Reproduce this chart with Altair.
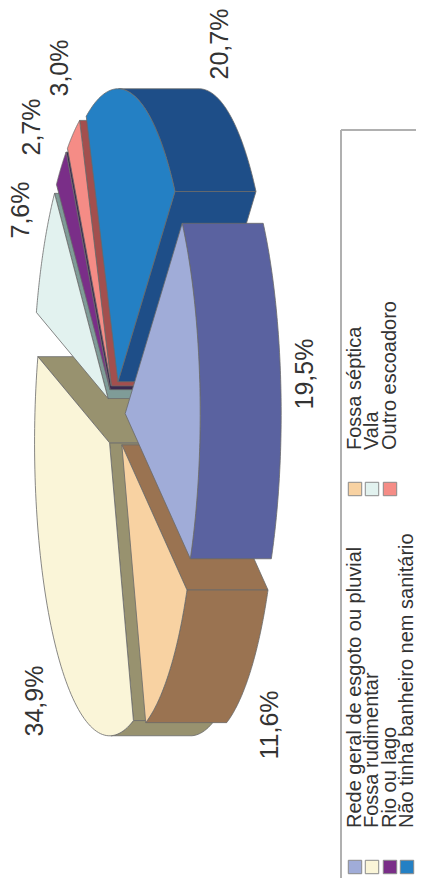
import numpy as np
import altair as alt

categories = ["Rede geral de esgoto ou pluvial", "Fossa séptica", "Fossa rudimentar", "Vala",
              "Rio ou lago", "Outro escoadoro", "Não tinha banheiro nem sanitário"]
values = [19.5, 11.6, 34.9, 7.6, 2.7, 3.0, 20.7]
top_colors = ["#A0ACD8", "#F8D2A2", "#FAF5D8", "#E2F2EF", "#7A2E88", "#F58C86", "#2480C4"]
side_colors = ["#5A62A0", "#9A7351", "#98926F", "#7F9C98", "#3A2A50", "#A34F4E", "#1E4E88"]
draw_order = [2, 3, 4, 5, 6, 1, 0]
start_angle = -40.5

W, H = 408, 870
OFF = 8
CX, CY, AX, AY, DEPTH, EXPLODE = 116.0, 417.0, 75.0, 293.0, 81.0, 0.123
EDGE = "#6a6a6a"

ends = start_angle + np.cumsum(values) * 3.6
starts = ends - np.array(values) * 3.6


def ell(t, c):
    r = np.radians(t)
    return (c[0] + AX * np.cos(r), c[1] + AY * np.sin(r))


def feature(pts, fill, key):
    ring = [[float(a), float(b)] for a, b in pts]
    ring.append(ring[0])
    return {"type": "Feature", "properties": {"fill": fill, "key": key},
            "geometry": {"type": "Polygon", "coordinates": [ring]}}


features = []
for i in draw_order:
    t0, t1 = starts[i], ends[i]
    mid = np.radians((t0 + t1) / 2)
    c = (CX + EXPLODE * AX * np.cos(mid), CY + EXPLODE * AY * np.sin(mid))
    ts = np.linspace(t0, t1, 80)
    shift = lambda p: (p[0] + DEPTH, p[1])
    if np.sin(np.radians(t0)) > 0:
        e = ell(t0, c)
        features.append(feature([c, e, shift(e), shift(c)], side_colors[i], f"{i}a"))
    if -np.sin(np.radians(t1)) > 0:
        e = ell(t1, c)
        features.append(feature([c, e, shift(e), shift(c)], side_colors[i], f"{i}b"))
    vis = ts[np.cos(np.radians(ts)) > 0]
    if len(vis) > 1:
        arc = [ell(t, c) for t in vis]
        features.append(feature(arc + [shift(p) for p in arc[::-1]], side_colors[i], f"{i}c"))
    features.append(feature([c] + [ell(t, c) for t in ts], top_colors[i], f"{i}d"))

pie = alt.Chart(alt.Data(values=features)).mark_geoshape(stroke=EDGE, strokeWidth=0.8).encode(
    fill=alt.Fill("properties.fill:N", scale=None)
).project(type="identity", scale=1, translate=[-OFF, -OFF])

xs = alt.Scale(domain=[OFF, OFF + W], range=[0, W])
ys = alt.Scale(domain=[OFF, OFF + H], range=[0, H])
X = lambda f: alt.X(f, type="quantitative", scale=xs, axis=None)
Y = lambda f: alt.Y(f, type="quantitative", scale=ys, axis=None)

label_text = [f"{v:.1f}%".replace(".", ",") for v in values]
label_x = [305, 270, 35, 21, 32, 60, 220]
label_y = [374, 725, 701, 210, 127, 68, 44]
labels = alt.Chart(alt.Data(values=[{"t": t, "x": a, "y": b} for t, a, b in zip(label_text, label_x, label_y)])).mark_text(
    angle=270, font="Liberation Sans", fontSize=25, color="#333333", align="center", baseline="middle"
).encode(x=X("x"), y=Y("y"), text="t:N")

legend_col = [0, 1, 0, 1, 0, 1, 0]
legend_row = [0, 0, 1, 1, 2, 2, 3]
row_x = [355, 372, 390, 407]
swatch_y = [867, 489]
text_y = [828, 450]
rows = [{"name": n, "fill": f, "sx": row_x[r], "sy": swatch_y[c], "ty": text_y[c]}
        for n, f, r, c in zip(categories, top_colors, legend_row, legend_col)]
swatches = alt.Chart(alt.Data(values=rows)).mark_square(size=180, stroke="#8a8a8a", strokeWidth=1, opacity=1).encode(
    x=X("sx"), y=Y("sy"), fill=alt.Fill("fill:N", scale=None)
)
texts = alt.Chart(alt.Data(values=rows)).mark_text(
    angle=270, font="Liberation Sans", fontSize=20, color="#333333", align="left", baseline="middle"
).encode(x=X("sx"), y=Y("ty"), text="name:N")

box_v = alt.Chart(alt.Data(values=[{"x": 341, "y": 130, "y2": 878}])).mark_rule(color="#b0b0b0", strokeWidth=2).encode(
    x=X("x"), y=Y("y"), y2="y2:Q")
box_h = alt.Chart(alt.Data(values=[{"x": 341, "x2": 416, "y": 130}])).mark_rule(color="#b0b0b0", strokeWidth=2).encode(
    x=X("x"), x2="x2:Q", y=Y("y"))

chart = alt.layer(pie, box_v, box_h, swatches, texts, labels).properties(
    width=W, height=H, padding=0, autosize=alt.AutoSizeParams(type="none")
).configure_view(stroke=None)

chart.save("out.html", embed_options={"renderer": "svg", "actions": False})
